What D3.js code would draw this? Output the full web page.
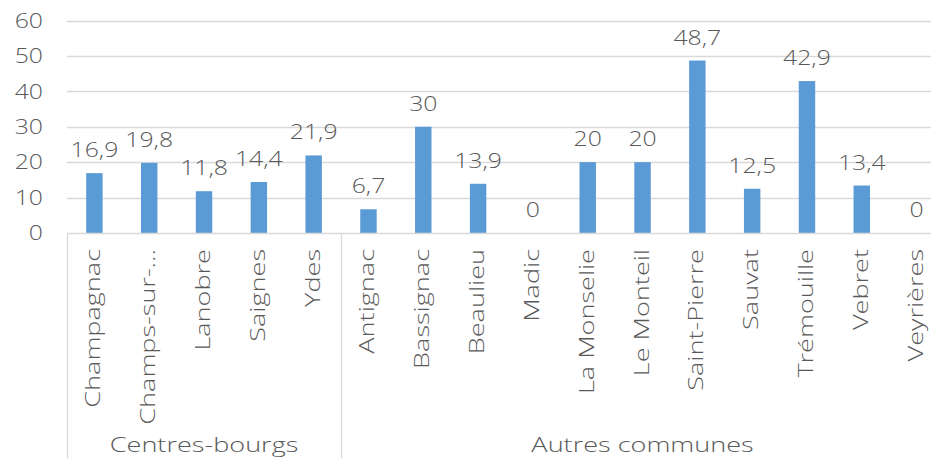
<!DOCTYPE html>
<html>
<head>
<meta charset="utf-8">
<script src="https://cdn.jsdelivr.net/npm/d3@7/dist/d3.min.js"></script>
<style>
  html, body { margin: 0; padding: 0; background: #fff; }
  svg { display: block; }
  text { font-family: "Open Sans", "Noto Sans", sans-serif; font-weight: 300; fill: #595959; }
</style>
</head>
<body>
<svg id="chart" width="931" height="458"></svg>
<script>
// Commune names, grouped, with their values (%)
const groups = ["Centres-bourgs", "Autres communes"];
const groupOf = ["Centres-bourgs", "Centres-bourgs", "Centres-bourgs", "Centres-bourgs", "Centres-bourgs",
  "Autres communes", "Autres communes", "Autres communes", "Autres communes", "Autres communes",
  "Autres communes", "Autres communes", "Autres communes", "Autres communes", "Autres communes", "Autres communes"];
const categories = ["Champagnac", "Champs-sur-…", "Lanobre", "Saignes", "Ydes",
  "Antignac", "Bassignac", "Beaulieu", "Madic", "La Monselie", "Le Monteil",
  "Saint-Pierre", "Sauvat", "Trémouille", "Vebret", "Veyrières"];
const values = [16.9, 19.8, 11.8, 14.4, 21.9, 6.7, 30, 13.9, 0, 20, 20, 48.7, 12.5, 42.9, 13.4, 0];
const valueLabels = ["16,9", "19,8", "11,8", "14,4", "21,9", "6,7", "30", "13,9", "0", "20", "20", "48,7", "12,5", "42,9", "13,4", "0"];
const yTicks = [0, 10, 20, 30, 40, 50, 60];

(function () {
  const svg = d3.select("#chart");
  const plotLeft = 67, plotRight = 944, plotTop = 20.5, plotBottom = 233, axisBottom = 458;
  const fs = 21;        // font size
  const sxWord = 1.29;  // horizontal widening of word lettering
  const sxNum = 1.18;   // horizontal widening of numerals

  const x = d3.scaleBand().domain(categories.map((c, i) => i)).range([plotLeft, plotRight])
    .paddingInner(0.7).paddingOuter(0.35);
  const y = d3.scaleLinear().domain([0, 60]).range([plotBottom, plotTop]);

  // Horizontal gridlines
  svg.append("g").selectAll("line").data(yTicks.filter(t => t > 0)).join("line")
    .attr("x1", plotLeft).attr("x2", plotRight)
    .attr("y1", d => Math.round(y(d)) + 0.5).attr("y2", d => Math.round(y(d)) + 0.5)
    .attr("stroke", "#d9d9d9").attr("stroke-width", 1.3);

  // Y axis labels
  const yAxis = d3.axisLeft(y).tickValues(yTicks).tickSize(0).tickPadding(0).tickFormat(d3.format("d"));
  const ya = svg.append("g").attr("transform", "translate(43,0)").call(yAxis);
  ya.select(".domain").remove();
  ya.selectAll("text").style("font-size", fs + "px").attr("fill", "#595959")
    .attr("font-family", null).attr("transform", `scale(${sxNum},1)`);

  // Bars
  svg.append("g").selectAll("rect").data(values).join("rect")
    .attr("x", (d, i) => x(i)).attr("width", x.bandwidth())
    .attr("y", d => y(d)).attr("height", d => y(0) - y(d))
    .attr("fill", "#5b9bd5");

  // Value labels
  svg.append("g").selectAll("text").data(values).join("text")
    .attr("transform", (d, i) => `translate(${x(i) + x.bandwidth() / 2},${y(d) - 16}) scale(${sxNum},1)`)
    .attr("text-anchor", "middle")
    .style("font-size", fs + "px")
    .text((d, i) => valueLabels[i]);

  // Category axis line
  svg.append("line").attr("x1", plotLeft).attr("x2", plotRight)
    .attr("y1", plotBottom + 0.5).attr("y2", plotBottom + 0.5)
    .attr("stroke", "#d9d9d9").attr("stroke-width", 1.3);

  // Rotated category labels
  svg.append("g").selectAll("text").data(categories).join("text")
    .attr("transform", (d, i) => `translate(${x(i) + x.bandwidth() / 2 + 6},249) rotate(-90) scale(${sxWord},1)`)
    .attr("text-anchor", "end")
    .style("font-size", fs + "px")
    .text(d => d);

  // Group separators and group labels
  const step = x.step();
  const groupSpans = groups.map(g => {
    const idx = groupOf.map((v, i) => v === g ? i : -1).filter(i => i >= 0);
    return { name: g, x0: plotLeft + idx[0] * step, x1: plotLeft + (idx[idx.length - 1] + 1) * step };
  });
  const seps = [groupSpans[0].x0].concat(groupSpans.map(s => s.x1));
  svg.append("g").selectAll("line").data(seps).join("line")
    .attr("x1", d => Math.round(d) + 0.5).attr("x2", d => Math.round(d) + 0.5)
    .attr("y1", plotBottom).attr("y2", axisBottom)
    .attr("stroke", "#d9d9d9").attr("stroke-width", 1.3);
  svg.append("g").selectAll("text").data(groupSpans).join("text")
    .attr("transform", d => `translate(${(d.x0 + d.x1) / 2},452) scale(${sxWord},1)`)
    .attr("text-anchor", "middle")
    .style("font-size", fs + "px")
    .text(d => d.name);
})();
</script>
</body>
</html>
